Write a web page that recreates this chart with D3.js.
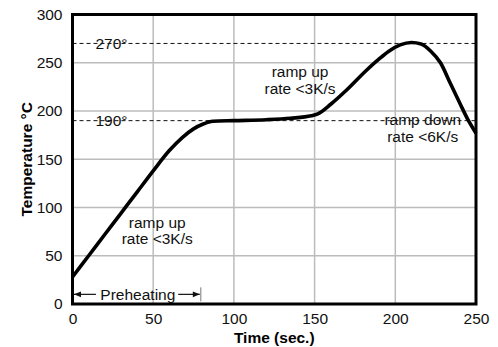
<!DOCTYPE html>
<html>
<head>
<meta charset="utf-8">
<script src="https://cdn.jsdelivr.net/npm/d3@7"></script>
<style>
  body { margin: 0; background: #fff; }
  svg { display: block; font-family: "Liberation Sans", Arial, Helvetica, sans-serif; }
</style>
</head>
<body>
<svg width="498" height="347"></svg>
<script>
// reflow profile
var times = [0, 10, 20, 30, 40, 50, 60, 68, 75, 81, 87, 100, 120, 135, 148, 152, 160, 170, 182, 190, 196, 203, 210, 216, 222, 228, 234, 240, 245, 250];
var temps = [28, 50, 72, 94, 116, 138, 159, 172.5, 181.5, 186.5, 189.3, 190, 191, 192.5, 195, 197, 207, 222, 242, 254, 262, 268.5, 271, 269.5, 262, 250, 229, 208, 191, 177];

var xTicks = [0, 50, 100, 150, 200, 250];
var yTicks = [0, 50, 100, 150, 200, 250, 300];

var limits = [270, 190];
var limitLabels = ["270°", "190°"];

var preheatEnd = 79.5;
var preheatLevel = 10;

var svg = d3.select("svg");
var margin = { top: 14.5, right: 22, bottom: 43, left: 72.5 };
var width = 498 - margin.left - margin.right;
var height = 347 - margin.top - margin.bottom;

var g = svg.append("g").attr("transform", "translate(" + margin.left + "," + margin.top + ")");

var x = d3.scaleLinear().domain([0, 250]).range([0, width]);
var y = d3.scaleLinear().domain([0, 300]).range([height, 0]);

// grid
g.append("g").attr("class", "grid")
  .selectAll("line.v").data(xTicks.slice(1, -1)).enter().append("line")
  .attr("x1", function(d) { return x(d); }).attr("x2", function(d) { return x(d); })
  .attr("y1", 0).attr("y2", height)
  .attr("stroke", "#bcbcbc").attr("stroke-width", 1.5);
g.select(".grid")
  .selectAll("line.h").data(yTicks.slice(1, -1)).enter().append("line")
  .attr("x1", 0).attr("x2", width)
  .attr("y1", function(d) { return y(d); }).attr("y2", function(d) { return y(d); })
  .attr("stroke", "#bcbcbc").attr("stroke-width", 1.5);

// axes (labels only)
var xAxis = g.append("g").attr("transform", "translate(0," + height + ")")
  .call(d3.axisBottom(x).tickValues(xTicks).tickSize(0).tickPadding(9));
var yAxis = g.append("g")
  .call(d3.axisLeft(y).tickValues(yTicks).tickSize(0).tickPadding(10));
[xAxis, yAxis].forEach(function(a) {
  a.select(".domain").remove();
  a.selectAll("text").attr("font-size", 15.5).attr("fill", "#111")
    .attr("font-family", "Liberation Sans, Arial, sans-serif");
});

// dashed limit lines
g.selectAll(".limit").data(limits).enter().append("line")
  .attr("x1", 0).attr("x2", width)
  .attr("y1", function(d) { return y(d); }).attr("y2", function(d) { return y(d); })
  .attr("stroke", "#111").attr("stroke-width", 1)
  .attr("stroke-dasharray", "4,3");
g.selectAll(".limitLabel").data(limits).enter().append("text")
  .attr("x", 23).attr("y", function(d) { return y(d) + 5.5; })
  .attr("font-size", 15.5).attr("fill", "#111")
  .text(function(d, i) { return limitLabels[i]; });

// profile curve
var line = d3.line()
  .x(function(d) { return x(d[0]); })
  .y(function(d) { return y(d[1]); })
  .curve(d3.curveMonotoneX);
g.append("path")
  .datum(d3.zip(times, temps))
  .attr("fill", "none").attr("stroke", "#000")
  .attr("stroke-width", 3.6).attr("stroke-linejoin", "round")
  .attr("d", line);

// annotations
function note(tx, ty, lines) {
  var t = g.append("text").attr("text-anchor", "middle").attr("font-size", 15.5).attr("fill", "#111");
  lines.forEach(function(s, i) {
    t.append("tspan").attr("x", x(tx)).attr("y", y(ty) + i * 16.5).text(s);
  });
}
note(52.5, 79, ["ramp up", "rate <3K/s"]);
note(141, 235, ["ramp up", "rate <3K/s"]);
note(217, 185, ["ramp down", "rate <6K/s"]);

// preheating arrow
svg.append("defs").append("marker")
  .attr("id", "arr").attr("viewBox", "0 0 10 10").attr("refX", 10).attr("refY", 5)
  .attr("markerWidth", 10).attr("markerHeight", 7).attr("markerUnits", "userSpaceOnUse")
  .attr("orient", "auto-start-reverse")
  .append("path").attr("d", "M0,1 L10,5 L0,9 z").attr("fill", "#111");
var py = y(preheatLevel);
g.append("line").attr("x1", x(0) + 1.5).attr("x2", x(14.5)).attr("y1", py).attr("y2", py)
  .attr("stroke", "#111").attr("stroke-width", 1.2).attr("marker-start", "url(#arr)");
g.append("line").attr("x1", x(65.5)).attr("x2", x(preheatEnd) - 1).attr("y1", py).attr("y2", py)
  .attr("stroke", "#111").attr("stroke-width", 1.2).attr("marker-end", "url(#arr)");
g.append("line").attr("x1", x(preheatEnd)).attr("x2", x(preheatEnd))
  .attr("y1", py - 7).attr("y2", py + 7)
  .attr("stroke", "#777").attr("stroke-width", 1);
g.append("text").attr("x", x(40.5)).attr("y", py + 5.5).attr("text-anchor", "middle")
  .attr("font-size", 15.5).attr("fill", "#111").text("Preheating");

// frame
g.append("rect").attr("width", width).attr("height", height)
  .attr("fill", "none").attr("stroke", "#000").attr("stroke-width", 3);

// axis titles
svg.append("text").attr("x", margin.left + width / 2).attr("y", 343)
  .attr("text-anchor", "middle").attr("font-size", 15.5).attr("font-weight", "bold")
  .text("Time (sec.)");
svg.append("text")
  .attr("transform", "translate(32," + (margin.top + height / 2) + ") rotate(-90)")
  .attr("text-anchor", "middle").attr("font-size", 15.5).attr("font-weight", "bold")
  .text("Temperature °C");
</script>
</body>
</html>
